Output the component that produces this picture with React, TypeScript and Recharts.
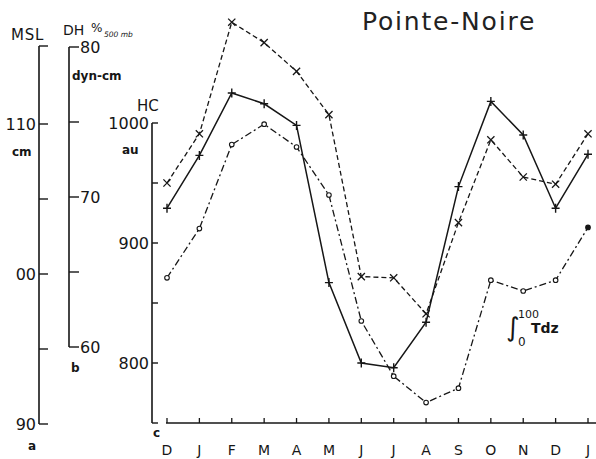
import React from 'react';
import { LineChart, Line, XAxis, YAxis } from 'recharts';

const months = ['D', 'J', 'F', 'M', 'A', 'M', 'J', 'J', 'A', 'S', 'O', 'N', 'D', 'J'];
// values expressed on the HC scale (au)
const solidSeries = [929, 973, 1025, 1016, 998, 867, 800, 796, 834, 947, 1018, 990, 929, 974];
const dashedSeries = [950, 991, 1084, 1067, 1043, 1007, 872, 871, 841, 917, 986, 955, 949, 991];
const dashDotSeries = [871, 912, 982, 999, 980, 940, 835, 789, 767, 779, 869, 860, 869, 913];

const hcTicks = [750, 800, 850, 900, 950, 1000];
const hcLabels: Record<number, string> = { 800: '800', 900: '900', 1000: '1000' };
const mslTicks = [90, 95, 100, 105, 110, 115.2];
const mslLabels: Record<number, string> = { 90: '90', 100: '00', 110: '110' };
const dhTicks = [60, 65, 70, 75, 80];
const dhLabels: Record<number, string> = { 60: '60', 70: '70', 80: '80' };

const data = months.map((m, i) => ({
  idx: i,
  solid: solidSeries[i],
  dashed: dashedSeries[i],
  dashdot: dashDotSeries[i],
}));

const INK = '#161616';
const FONT = '"DejaVu Sans", sans-serif';
const W = 596;
const H = 459;

const plusDot = (p: any) => {
  const { cx, cy, index } = p;
  if (cx == null || cy == null) return <g key={`p${index}`} />;
  return (
    <path key={`p${index}`} d={`M${cx - 4},${cy}H${cx + 4}M${cx},${cy - 4.5}V${cy + 4.5}`} stroke={INK} strokeWidth={1.4} fill="none" />
  );
};
const crossDot = (p: any) => {
  const { cx, cy, index } = p;
  if (cx == null || cy == null) return <g key={`x${index}`} />;
  const r = 3.6;
  return (
    <path key={`x${index}`} d={`M${cx - r},${cy - r}L${cx + r},${cy + r}M${cx - r},${cy + r}L${cx + r},${cy - r}`} stroke={INK} strokeWidth={1.3} fill="none" />
  );
};
const circleDot = (p: any) => {
  const { cx, cy, index } = p;
  if (cx == null || cy == null) return <g key={`o${index}`} />;
  const last = index === months.length - 1;
  return <circle key={`o${index}`} cx={cx} cy={cy} r={2.3} fill={last ? INK : '#fff'} stroke={INK} strokeWidth={1.1} />;
};

const MonthTick = (p: any) => {
  const { x, y, payload } = p;
  return (
    <g>
      <line x1={x} y1={y} x2={x} y2={y - 5} stroke={INK} strokeWidth={1.3} />
      <text x={x} y={y + 32} textAnchor="middle" fontFamily={FONT} fontSize={14} fill={INK}>
        {months[payload.value]}
      </text>
    </g>
  );
};

const makeLeftTick = (labels: Record<number, string>, len: number) => (p: any) => {
  const { x, y, payload } = p;
  const lab = labels[payload.value];
  return (
    <g>
      <line x1={x} y1={y} x2={x + len} y2={y} stroke={INK} strokeWidth={1.4} />
      {lab ? (
        <text x={x - 3} y={y + 5.5} textAnchor="end" fontFamily={FONT} fontSize={16} fill={INK}>
          {lab}
        </text>
      ) : null}
    </g>
  );
};

const makeRightLabelTick = (labels: Record<number, string>, len: number) => (p: any) => {
  const { x, y, payload } = p;
  const lab = labels[payload.value];
  return (
    <g>
      <line x1={x} y1={y} x2={x + len} y2={y} stroke={INK} strokeWidth={1.4} />
      {lab ? (
        <text x={x + len + 1} y={y + 5.5} textAnchor="start" fontFamily={FONT} fontSize={16} fill={INK}>
          {lab}
        </text>
      ) : null}
    </g>
  );
};

const layer: React.CSSProperties = { position: 'absolute', left: 0, top: 0 };

function AxisChart(props: { top: number; bottom: number; width: number; domain: number[]; ticks: number[]; tick: any }) {
  return (
    <div style={layer}>
      <LineChart width={W} height={H} data={data} margin={{ top: props.top, bottom: props.bottom, left: 0, right: 0 }}>
        <XAxis dataKey="idx" hide />
        <YAxis
          width={props.width}
          domain={props.domain}
          ticks={props.ticks}
          allowDataOverflow
          interval={0}
          tickSize={0}
          tickMargin={0}
          tickLine={false}
          axisLine={{ stroke: INK, strokeWidth: 1.6 }}
          tick={props.tick}
        />
      </LineChart>
    </div>
  );
}

export default function App() {
  return (
    <div style={{ position: 'absolute', left: 0, top: 0, width: W, height: H, background: '#fff', overflow: 'hidden' }}>
      <div style={layer}>
        <LineChart width={W} height={H} data={data} margin={{ top: 3, right: 0, bottom: 6, left: 166 }}>
          <XAxis
            dataKey="idx"
            type="category"
            height={30}
            padding={{ left: 1, right: 8 }}
            interval={0}
            tickSize={0}
            tickMargin={0}
            tickLine={false}
            axisLine={{ stroke: INK, strokeWidth: 1.4 }}
            tick={MonthTick}
          />
          <YAxis hide domain={[750, 1100]} allowDataOverflow />
          <Line type="linear" dataKey="solid" stroke={INK} strokeWidth={1.5} dot={plusDot} activeDot={false} isAnimationActive={false} />
          <Line type="linear" dataKey="dashed" stroke={INK} strokeWidth={1.3} strokeDasharray="5 3" dot={crossDot} activeDot={false} isAnimationActive={false} />
          <Line type="linear" dataKey="dashdot" stroke={INK} strokeWidth={1.3} strokeDasharray="7 3 2 3" dot={circleDot} activeDot={false} isAnimationActive={false} />
        </LineChart>
      </div>
      <AxisChart top={46} bottom={35} width={39} domain={[90, 115.2]} ticks={mslTicks} tick={makeLeftTick(mslLabels, 9)} />
      <AxisChart top={47} bottom={112} width={69} domain={[60, 80]} ticks={dhTicks} tick={makeRightLabelTick(dhLabels, 10)} />
      <AxisChart top={123} bottom={36} width={152} domain={[750, 1000]} ticks={hcTicks} tick={makeLeftTick(hcLabels, 6)} />
      <svg width={W} height={H} style={{ ...layer, pointerEvents: 'none' }}>
        <g fontFamily={FONT} fill={INK}>
          <text x={362} y={30} fontSize={25} letterSpacing={1.8} fill="#222">Pointe-Noire</text>
          <text x={11} y={40} fontSize={15} letterSpacing={0.8}>MSL</text>
          <text x={63} y={35} fontSize={14}>DH</text>
          <text x={91} y={32} fontSize={12}>%</text>
          <text x={104} y={37} fontSize={7.5} fontStyle="italic">500 mb</text>
          <text x={72} y={80} fontSize={12} fontWeight="bold">dyn-cm</text>
          <text x={12} y={156} fontSize={12} fontWeight="bold">cm</text>
          <text x={137} y={111} fontSize={15}>HC</text>
          <text x={122} y={154} fontSize={12} fontWeight="bold">au</text>
          <text x={71} y={372} fontSize={12} fontWeight="bold">b</text>
          <text x={28} y={450} fontSize={12} fontWeight="bold">a</text>
          <text x={153} y={437} fontSize={12} fontWeight="bold">c</text>
          <text x={506} y={336} fontSize={26}>∫</text>
          <text x={518} y={318} fontSize={11}>100</text>
          <text x={531} y={333} fontSize={14} fontWeight="bold">Tdz</text>
          <text x={518} y={346} fontSize={12}>0</text>
        </g>
      </svg>
    </div>
  );
}
